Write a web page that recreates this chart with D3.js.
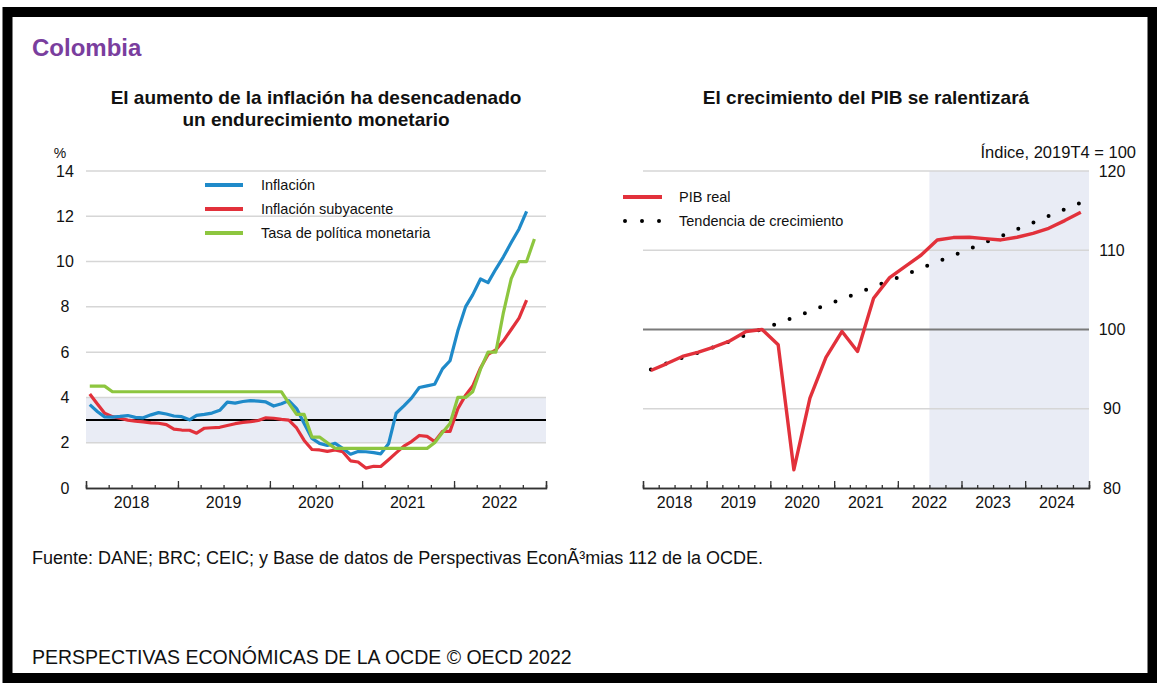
<!DOCTYPE html>
<html>
<head>
<meta charset="utf-8">
<script src="https://cdn.jsdelivr.net/npm/d3@7"></script>
<style>
  body { margin: 0; background: #fff; }
  text { font-family: "Liberation Sans", Arial, sans-serif; fill: #111; }
</style>
</head>
<body>
<svg id="svg" width="1157" height="683"></svg>
<script>
// monthly data, Jan 2018 onwards
var inflation = [3.68, 3.37, 3.14, 3.13, 3.16, 3.20, 3.12, 3.10, 3.23, 3.33, 3.27, 3.18,
  3.15, 3.01, 3.21, 3.25, 3.31, 3.43, 3.79, 3.75, 3.82, 3.86, 3.84, 3.80,
  3.62, 3.72, 3.86, 3.51, 2.85, 2.19, 1.97, 1.88, 1.97, 1.75, 1.49, 1.61,
  1.60, 1.56, 1.51, 1.95, 3.30, 3.63, 3.97, 4.44, 4.51, 4.58, 5.26, 5.62,
  6.94, 8.01, 8.53, 9.23, 9.07, 9.67, 10.21, 10.84, 11.44, 12.22];
var coreInflation = [4.15, 3.7, 3.3, 3.15, 3.08, 3.0, 2.95, 2.92, 2.88, 2.86, 2.8, 2.6,
  2.56, 2.55, 2.42, 2.64, 2.66, 2.68, 2.76, 2.84, 2.9, 2.93, 2.98, 3.1,
  3.08, 3.03, 3.0, 2.65, 2.1, 1.7, 1.68, 1.62, 1.68, 1.6, 1.2, 1.15,
  0.88, 0.96, 0.95, 1.25, 1.55, 1.85, 2.05, 2.32, 2.28, 2.05, 2.5, 2.5,
  3.5, 4.1, 4.5, 5.3, 5.9, 6.1, 6.5, 7.0, 7.5, 8.3];
var policyRate = [4.5, 4.5, 4.5, 4.25, 4.25, 4.25, 4.25, 4.25, 4.25, 4.25, 4.25, 4.25,
  4.25, 4.25, 4.25, 4.25, 4.25, 4.25, 4.25, 4.25, 4.25, 4.25, 4.25, 4.25,
  4.25, 4.25, 3.75, 3.25, 3.25, 2.25, 2.25, 2.0, 1.75, 1.75, 1.75, 1.75,
  1.75, 1.75, 1.75, 1.75, 1.75, 1.75, 1.75, 1.75, 1.75, 2.0, 2.45, 2.85,
  4.0, 4.0, 4.25, 5.25, 6.0, 6.0, 7.75, 9.25, 10.0, 10.0, 11.0];
var targetRange = [2, 4];
var targetMid = 3;
var leftTicks = [0, 2, 4, 6, 8, 10, 12, 14];

// quarterly data, 2018Q1 - 2024Q4
var realGdp = [94.83, 95.67, 96.6, 97.14, 97.82, 98.57, 99.75, 100,
  98.07, 82.31, 91.34, 96.47, 99.75, 97.23, 103.95, 106.55,
  108.0, 109.4, 111.3, 111.6, 111.64, 111.47, 111.3, 111.64,
  112.14, 112.77, 113.74, 114.79];
var trendGdp = [94.95, 95.71, 96.45, 97.1, 97.81, 98.53, 99.33, 100.07,
  100.78, 101.52, 102.29, 103.09, 103.84, 104.6, 105.38, 106.17,
  106.94, 107.73, 108.54, 109.35, 110.17, 110.99, 111.76, 112.64,
  113.48, 114.32, 115.18, 116.0];
var rightTicks = [80, 90, 100, 110, 120];
var leftYears = [2018, 2019, 2020, 2021, 2022];
var rightYears = [2018, 2019, 2020, 2021, 2022, 2023, 2024];

var blue = "#1f8ac9", red = "#e2313b", green = "#8dc63f";
var svg = d3.select("#svg");

// frame
svg.append("rect").attr("x", 0).attr("y", 0).attr("width", 1157).attr("height", 683).attr("fill", "#fff");
svg.append("rect").attr("x", 7.5).attr("y", 12).attr("width", 1145).attr("height", 666)
  .attr("fill", "none").attr("stroke", "#000").attr("stroke-width", 10);

svg.append("text").attr("x", 32).attr("y", 56)
  .attr("font-size", 24).attr("font-weight", "bold").style("fill", "#7a3e9e")
  .text("Colombia");

// ---------- left chart ----------
var L = {left: 86, right: 546, top: 171, bottom: 488};
var x1 = d3.scaleTime().domain([new Date(2018, 0, 1), new Date(2023, 0, 1)]).range([L.left, L.right]);
var y1 = d3.scaleLinear().domain([0, 14]).range([L.bottom, L.top]);
var monthDate = i => new Date(2018, i, 16);

svg.append("text").attr("x", 316).attr("y", 104).attr("text-anchor", "middle")
  .attr("font-size", 19).attr("font-weight", "bold").text("El aumento de la inflación ha desencadenado");
svg.append("text").attr("x", 316).attr("y", 126).attr("text-anchor", "middle")
  .attr("font-size", 19).attr("font-weight", "bold").text("un endurecimiento monetario");
svg.append("text").attr("x", 60).attr("y", 158).attr("text-anchor", "middle").attr("font-size", 14).text("%");

svg.append("rect").attr("x", L.left).attr("width", L.right - L.left)
  .attr("y", y1(targetRange[1])).attr("height", y1(targetRange[0]) - y1(targetRange[1]))
  .attr("fill", "#e9ecf5");

svg.append("g").selectAll("line").data(leftTicks.slice(1)).join("line")
  .attr("x1", L.left).attr("x2", L.right).attr("y1", d => y1(d)).attr("y2", d => y1(d))
  .attr("stroke", "#d6d6d6").attr("stroke-width", 1.5);

svg.append("g").selectAll("text").data(leftTicks).join("text")
  .attr("x", 65).attr("y", d => y1(d)).attr("dy", "0.35em").attr("text-anchor", "middle")
  .attr("font-size", 16).text(d => d);

svg.append("line").attr("x1", L.left).attr("x2", L.right)
  .attr("y1", y1(targetMid)).attr("y2", y1(targetMid)).attr("stroke", "#000").attr("stroke-width", 2);

var line1 = d3.line().x((d, i) => x1(monthDate(i))).y(d => y1(d));
[[coreInflation, red], [inflation, blue], [policyRate, green]].forEach(function(s) {
  svg.append("path").datum(s[0]).attr("d", line1).attr("fill", "none")
    .attr("stroke", s[1]).attr("stroke-width", 3.2).attr("stroke-linejoin", "round");
});

function timeAxis(x, yPos, years) {
  var g = svg.append("g").attr("transform", "translate(0," + yPos + ")");
  g.append("g").call(d3.axisBottom(x).ticks(d3.timeMonth.every(3)).tickSize(-3).tickFormat(""));
  g.append("g").call(d3.axisBottom(x).ticks(d3.timeYear).tickSize(-7).tickFormat(""));
  g.selectAll("path.domain").attr("stroke", "#333").attr("stroke-width", 1.3);
  g.selectAll(".tick line").attr("stroke", "#333").attr("stroke-width", 1.3);
  g.selectAll("text.yl").data(years).join("text")
    .attr("x", d => x(new Date(d, 6, 1))).attr("y", 20).attr("text-anchor", "middle")
    .attr("font-size", 16).text(d => d);
}
timeAxis(x1, L.bottom, leftYears);

// legend left
var legL = [["Inflación", blue], ["Inflación subyacente", red], ["Tasa de política monetaria", green]];
legL.forEach(function(d, i) {
  var yy = 185 + i * 24;
  svg.append("line").attr("x1", 205).attr("x2", 243).attr("y1", yy).attr("y2", yy)
    .attr("stroke", d[1]).attr("stroke-width", 4);
  svg.append("text").attr("x", 261).attr("y", yy).attr("dy", "0.35em").attr("font-size", 14.5).text(d[0]);
});

// ---------- right chart ----------
var R = {left: 643, right: 1089, top: 171, bottom: 488};
var x2 = d3.scaleTime().domain([new Date(2018, 0, 1), new Date(2025, 0, 1)]).range([R.left, R.right]);
var y2 = d3.scaleLinear().domain([80, 120]).range([R.bottom, R.top]);
var qDate = i => new Date(2018, i * 3 + 1, 15);

svg.append("text").attr("x", 866).attr("y", 104).attr("text-anchor", "middle")
  .attr("font-size", 19).attr("font-weight", "bold").text("El crecimiento del PIB se ralentizará");
svg.append("text").attr("x", 1136).attr("y", 158).attr("text-anchor", "end")
  .attr("font-size", 16.5).text("Índice, 2019T4 = 100");

svg.append("rect").attr("x", x2(new Date(2022, 6, 1))).attr("y", R.top)
  .attr("width", R.right - x2(new Date(2022, 6, 1))).attr("height", R.bottom - R.top)
  .attr("fill", "#e9ecf5");

svg.append("g").selectAll("line").data(rightTicks.slice(1)).join("line")
  .attr("x1", R.left).attr("x2", R.right).attr("y1", d => y2(d)).attr("y2", d => y2(d))
  .attr("stroke", d => d === 100 ? "#7a7a7a" : "#d6d6d6").attr("stroke-width", d => d === 100 ? 2 : 1.5);

svg.append("g").selectAll("text").data(rightTicks).join("text")
  .attr("x", 1112).attr("y", d => y2(d)).attr("dy", "0.35em").attr("text-anchor", "middle")
  .attr("font-size", 16).text(d => d);

var line2 = d3.line().x((d, i) => x2(qDate(i))).y(d => y2(d));
svg.append("path").datum(trendGdp).attr("d", line2).attr("fill", "none")
  .attr("stroke", "#000").attr("stroke-width", 4).attr("stroke-linecap", "round")
  .attr("stroke-dasharray", "0 16.4");
svg.append("path").datum(realGdp).attr("d", line2).attr("fill", "none")
  .attr("stroke", red).attr("stroke-width", 3.4).attr("stroke-linejoin", "round");

timeAxis(x2, R.bottom, rightYears);

svg.append("line").attr("x1", 623).attr("x2", 662).attr("y1", 197).attr("y2", 197)
  .attr("stroke", red).attr("stroke-width", 4);
svg.append("text").attr("x", 679).attr("y", 197).attr("dy", "0.35em").attr("font-size", 14.5).text("PIB real");
svg.append("line").attr("x1", 625).attr("x2", 660).attr("y1", 221).attr("y2", 221)
  .attr("stroke", "#000").attr("stroke-width", 4).attr("stroke-linecap", "round")
  .attr("stroke-dasharray", "0 17");
svg.append("text").attr("x", 679).attr("y", 221).attr("dy", "0.35em").attr("font-size", 14.5).text("Tendencia de crecimiento");

// footer
svg.append("text").attr("x", 32).attr("y", 564).attr("font-size", 18)
  .text("Fuente: DANE; BRC; CEIC; y Base de datos de Perspectivas EconÃ³mias 112 de la OCDE.");
svg.append("text").attr("x", 32).attr("y", 664).attr("font-size", 19.5)
  .text("PERSPECTIVAS ECONÓMICAS DE LA OCDE © OECD 2022");
</script>
</body>
</html>
